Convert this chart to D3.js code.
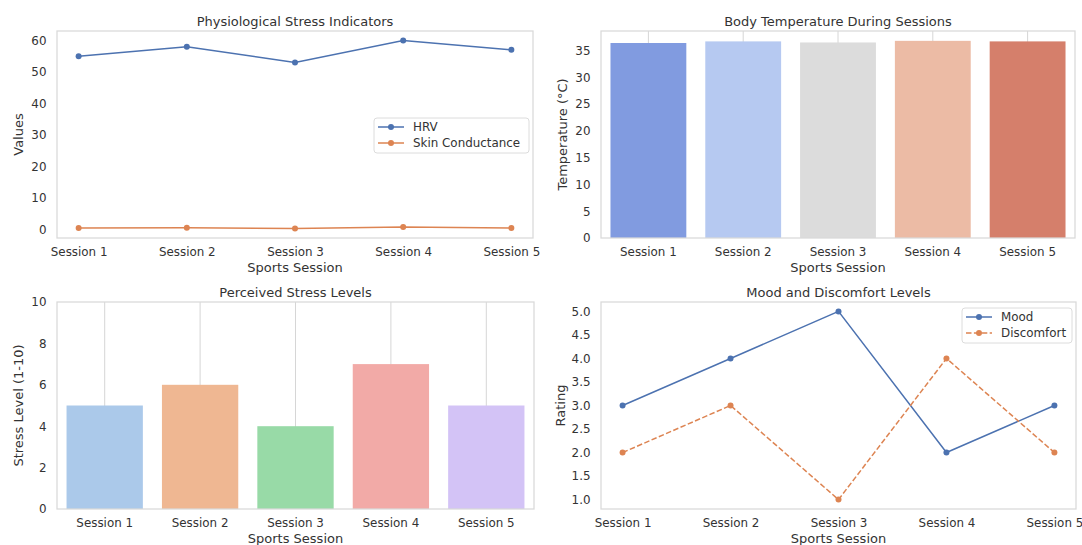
<!DOCTYPE html>
<html><head><meta charset="utf-8">
<script src="https://cdn.jsdelivr.net/npm/d3@7"></script>
<style>
html,body{margin:0;padding:0;background:#fff;}
text{font-family:"DejaVu Sans",sans-serif;fill:#333;}
</style></head>
<body><svg id="c" width="1082" height="545"></svg>
<script>
const sessions = ["Session 1","Session 2","Session 3","Session 4","Session 5"];
const hrv = [55, 58, 53, 60, 57];
const skinConductance = [0.5, 0.6, 0.3, 0.8, 0.5];
const bodyTemp = [36.4, 36.7, 36.5, 36.8, 36.7];
const stress = [5, 6, 4, 7, 5];
const mood = [3, 4, 5, 2, 3];
const discomfort = [2, 3, 1, 4, 2];
const tempTicks = [0,5,10,15,20,25,30,35];
const hrvTicks = [0,10,20,30,40,50,60];
const stressTicks = [0,2,4,6,8,10];
const ratingTicks = [1.0,1.5,2.0,2.5,3.0,3.5,4.0,4.5,5.0];
const tempColors = ["#819be0","#b6c9f1","#dcdcdc","#ecbba5","#d57f6b"];
const stressColors = ["#abc9ea","#efb792","#98daa7","#f2aaa7","#d3c3f6"];
const BLUE = "#4c72b0", ORANGE = "#dd8452";

const svg = d3.select("#c");
const TICK = "11.9px", LAB = "13px";

function panel(o){
  const g = svg.append("g");
  const {x0,x1,y0,y1} = o;
  g.append("text").attr("x",(x0+x1)/2).attr("y",y0-5.5).attr("text-anchor","middle")
    .style("font-size",LAB).text(o.title);
  g.append("text").attr("x",(x0+x1)/2).attr("y",y1+33.5).attr("text-anchor","middle")
    .style("font-size",LAB).text("Sports Session");
  g.append("text").attr("transform",`translate(${o.ylx},${(y0+y1)/2}) rotate(-90)`)
    .attr("text-anchor","middle").attr("dy","0.35em").style("font-size",LAB).text(o.ylabel);
  return g;
}
function frame(g,o){
  g.append("rect").attr("x",o.x0).attr("y",o.y0).attr("width",o.x1-o.x0).attr("height",o.y1-o.y0)
    .attr("fill","none").attr("stroke","#d9d9d9").attr("stroke-width",1.25);
}
function yAxis(g,o,y,ticks,fmt){
  const ax = d3.axisLeft(y).tickValues(ticks).tickSize(0).tickPadding(10.5).tickFormat(fmt);
  const a = g.append("g").attr("transform",`translate(${o.x0},0)`).call(ax);
  a.select(".domain").remove();
  a.selectAll("text").style("font-size",TICK).style("font-family","DejaVu Sans").attr("fill","#333");
}
function xAxis(g,o,xf){
  const a = g.append("g").attr("transform",`translate(0,${o.y1})`).call(d3.axisBottom(xf).tickSize(0).tickPadding(10));
  a.select(".domain").remove();
  a.selectAll("text").style("font-size",TICK).style("font-family","DejaVu Sans").attr("fill","#333");
}
function legend(g,lx,ly,w,items){
  const h = 35;
  g.append("rect").attr("x",lx).attr("y",ly).attr("width",w).attr("height",h).attr("rx",3)
    .attr("fill","#fff").attr("fill-opacity",0.8).attr("stroke","#dcdcdc").attr("stroke-width",1);
  items.forEach((it,i)=>{
    const cy = ly + 9 + i*16;
    g.append("line").attr("x1",lx+4).attr("x2",lx+30).attr("y1",cy).attr("y2",cy)
      .attr("stroke",it.color).attr("stroke-width",1.5).attr("stroke-dasharray",it.dash||null);
    g.append("circle").attr("cx",lx+17).attr("cy",cy).attr("r",3).attr("fill",it.color);
    g.append("text").attr("x",lx+39).attr("y",cy).attr("dy","0.35em").style("font-size",TICK).text(it.label);
  });
}
function lineSeries(g,x,y,vals,color,dash){
  const line = d3.line().x((d,i)=>x(i)).y(d=>y(d));
  g.append("path").attr("d",line(vals)).attr("fill","none").attr("stroke",color)
    .attr("stroke-width",1.5).attr("stroke-dasharray",dash||null);
  g.selectAll(null).data(vals).enter().append("circle")
    .attr("cx",(d,i)=>x(i)).attr("cy",d=>y(d)).attr("r",3).attr("fill",color);
}
function padDomain(vals){
  const mn=d3.min(vals), mx=d3.max(vals), s=(mx-mn)*0.05; return [mn-s,mx+s];
}

// Panel 1
{
  const o={x0:57,x1:533,y0:31,y1:238,title:"Physiological Stress Indicators",ylabel:"Values",ylx:18};
  const g=panel(o);
  const x=d3.scaleLinear().domain([-0.2,4.2]).range([o.x0,o.x1]);
  const y=d3.scaleLinear().domain(padDomain(hrv.concat(skinConductance))).range([o.y1,o.y0]);
  frame(g,o);
  yAxis(g,o,y,hrvTicks,d3.format("d"));
  const xb=d3.scalePoint().domain(sessions).range([x(0),x(4)]);
  xAxis(g,o,xb);
  lineSeries(g,x,y,hrv,BLUE);
  lineSeries(g,x,y,skinConductance,ORANGE);
  legend(g,374,118,155,[{label:"HRV",color:BLUE},{label:"Skin Conductance",color:ORANGE}]);
}
// Panel 2
{
  const o={x0:601,x1:1075,y0:31,y1:238,title:"Body Temperature During Sessions",ylabel:"Temperature (°C)",ylx:562};
  const g=panel(o);
  const x=d3.scaleBand().domain(sessions).range([o.x0,o.x1]).paddingInner(0.2).paddingOuter(0.1);
  const y=d3.scaleLinear().domain([0,d3.max(bodyTemp)*1.05]).range([o.y1,o.y0]);
  g.selectAll(null).data(sessions).enter().append("line")
    .attr("x1",d=>x(d)+x.bandwidth()/2).attr("x2",d=>x(d)+x.bandwidth()/2)
    .attr("y1",o.y0).attr("y2",o.y1).attr("stroke","#d6d6d6").attr("stroke-width",1);
  g.selectAll(null).data(bodyTemp).enter().append("rect")
    .attr("x",(d,i)=>x(sessions[i])).attr("width",x.bandwidth())
    .attr("y",d=>y(d)).attr("height",d=>o.y1-y(d)).attr("fill",(d,i)=>tempColors[i]);
  frame(g,o);
  yAxis(g,o,y,tempTicks,d3.format("d"));
  xAxis(g,o,x);
}
// Panel 3
{
  const o={x0:57,x1:534,y0:302,y1:509,title:"Perceived Stress Levels",ylabel:"Stress Level (1-10)",ylx:18};
  const g=panel(o);
  const x=d3.scaleBand().domain(sessions).range([o.x0,o.x1]).paddingInner(0.2).paddingOuter(0.1);
  const y=d3.scaleLinear().domain([0,10]).range([o.y1,o.y0]);
  g.selectAll(null).data(sessions).enter().append("line")
    .attr("x1",d=>x(d)+x.bandwidth()/2).attr("x2",d=>x(d)+x.bandwidth()/2)
    .attr("y1",o.y0).attr("y2",o.y1).attr("stroke","#d6d6d6").attr("stroke-width",1);
  g.selectAll(null).data(stress).enter().append("rect")
    .attr("x",(d,i)=>x(sessions[i])).attr("width",x.bandwidth())
    .attr("y",d=>y(d)).attr("height",d=>o.y1-y(d)).attr("fill",(d,i)=>stressColors[i]);
  frame(g,o);
  yAxis(g,o,y,stressTicks,d3.format("d"));
  xAxis(g,o,x);
}
// Panel 4
{
  const o={x0:601,x1:1076,y0:302,y1:509,title:"Mood and Discomfort Levels",ylabel:"Rating",ylx:560};
  const g=panel(o);
  const x=d3.scaleLinear().domain([-0.2,4.2]).range([o.x0,o.x1]);
  const y=d3.scaleLinear().domain(padDomain(mood.concat(discomfort))).range([o.y1,o.y0]);
  frame(g,o);
  yAxis(g,o,y,ratingTicks,d3.format(".1f"));
  const xb=d3.scalePoint().domain(sessions).range([x(0),x(4)]);
  xAxis(g,o,xb);
  lineSeries(g,x,y,mood,BLUE);
  lineSeries(g,x,y,discomfort,ORANGE,"5.5,2.4");
  legend(g,962,308,110,[{label:"Mood",color:BLUE},{label:"Discomfort",color:ORANGE,dash:"5.5,2.4"}]);
}
</script></body></html>
